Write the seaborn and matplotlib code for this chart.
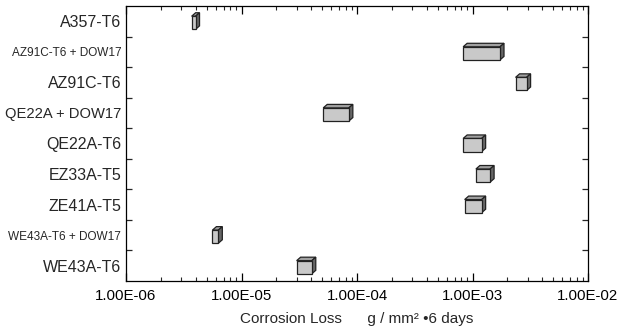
import numpy as np
import pandas as pd
import seaborn as sns
import matplotlib
matplotlib.use("Agg")
import matplotlib.pyplot as plt
from matplotlib import font_manager
from matplotlib.patches import Polygon
from matplotlib.ticker import LogLocator, NullFormatter

# ---- data ----
categories = ["A357-T6", "AZ91C-T6 + DOW17", "AZ91C-T6", "QE22A + DOW17", "QE22A-T6",
              "EZ33A-T5", "ZE41A-T5", "WE43A-T6 + DOW17", "WE43A-T6"]
loss_low = [3.7e-6, 8.3e-4, 2.36e-3, 5.1e-5, 8.3e-4, 1.07e-3, 8.55e-4, 5.6e-6, 3.0e-5]
loss_high = [4.0e-6, 1.73e-3, 2.94e-3, 8.5e-5, 1.2e-3, 1.42e-3, 1.2e-3, 6.3e-6, 4.06e-5]
condensed_labels = ["AZ91C-T6 + DOW17", "WE43A-T6 + DOW17"]
long_labels = ["QE22A + DOW17"]
xtick_values = [1e-6, 1e-5, 1e-4, 1e-3, 1e-2]
xtick_labels = ["1.00E-06", "1.00E-05", "1.00E-04", "1.00E-03", "1.00E-02"]

df = pd.DataFrame({"alloy": categories, "low": loss_low, "high": loss_high})

sns.set_style("white")
plt.rcParams["font.family"] = ["Liberation Sans", "DejaVu Sans"]

try:
    font_manager.findfont(font_manager.FontProperties(family="Liberation Sans Narrow"),
                          fallback_to_default=False)
    narrow = "Liberation Sans Narrow"
except Exception:
    narrow = None

fig = plt.figure(figsize=(6.34, 3.34), dpi=100)
ax = fig.add_axes([126 / 634, 1 - 281 / 334, 462 / 634, 275 / 334])

front_col = "#c9c9c9"
top_col = "#a0a0a0"
side_col = "#666666"
edge_col = "#222222"

sns.barplot(data=df, x="high", y="alloy", orient="h", width=0.43, color=front_col,
            saturation=1, edgecolor=edge_col, linewidth=0.9, ax=ax, zorder=3)

ax.set_xscale("log")
ax.set_xlim(1e-6, 1e-2)
ax.set_ylim(len(categories) - 0.5, -0.5)

f = 10 ** (4 / 115.5)
d = 3.5 / (275 / 9)
shift = 0.05
for patch, lo, hi in zip(ax.patches, df["low"], df["high"]):
    patch.set_x(lo)
    patch.set_width(hi - lo)
    patch.set_y(patch.get_y() + shift)
    y0 = patch.get_y()
    h = patch.get_height()
    top = Polygon([(lo, y0), (hi, y0), (hi * f, y0 - d), (lo * f, y0 - d)], closed=True,
                  facecolor=top_col, edgecolor=edge_col, linewidth=0.9, zorder=2)
    side = Polygon([(hi, y0), (hi, y0 + h), (hi * f, y0 + h - d), (hi * f, y0 - d)], closed=True,
                   facecolor=side_col, edgecolor=edge_col, linewidth=0.9, zorder=2)
    ax.add_patch(top)
    ax.add_patch(side)

# x ticks
ax.set_xticks(xtick_values)
ax.set_xticklabels(xtick_labels, fontsize=10.8)
ax.xaxis.set_minor_locator(LogLocator(base=10, subs=np.arange(2, 10)))
ax.xaxis.set_minor_formatter(NullFormatter())
ax.tick_params(axis="x", which="major", direction="in", length=5.5, width=0.9,
               top=True, bottom=True, pad=6, colors="black")
ax.tick_params(axis="x", which="minor", direction="in", length=2.8, width=0.8,
               top=True, bottom=True)

# y ticks: labels at categories, tick marks at boundaries
ax.set_yticks(range(len(categories)))
ax.set_yticklabels(categories, fontsize=11.5)
ax.set_yticks(np.arange(0.5, len(categories) - 1, 1.0), minor=True)
ax.tick_params(axis="y", which="major", length=0, pad=3.5)
ax.tick_params(axis="y", which="minor", direction="in", length=4, width=0.9,
               left=True, right=True)

for lab in ax.get_yticklabels():
    t = lab.get_text()
    if t in condensed_labels:
        if narrow:
            lab.set_fontfamily(narrow)
            lab.set_fontsize(10)
        else:
            lab.set_fontsize(8.5)
    elif t in long_labels:
        lab.set_fontsize(10.6)

ax.set_ylabel("")
ax.set_xlabel("Corrosion Loss      g / mm\u00b2 \u20226 days", fontsize=11, labelpad=6)

for sp in ax.spines.values():
    sp.set_visible(True)
    sp.set_color("black")
    sp.set_linewidth(0.9)

fig.savefig("out.png", dpi=100)
